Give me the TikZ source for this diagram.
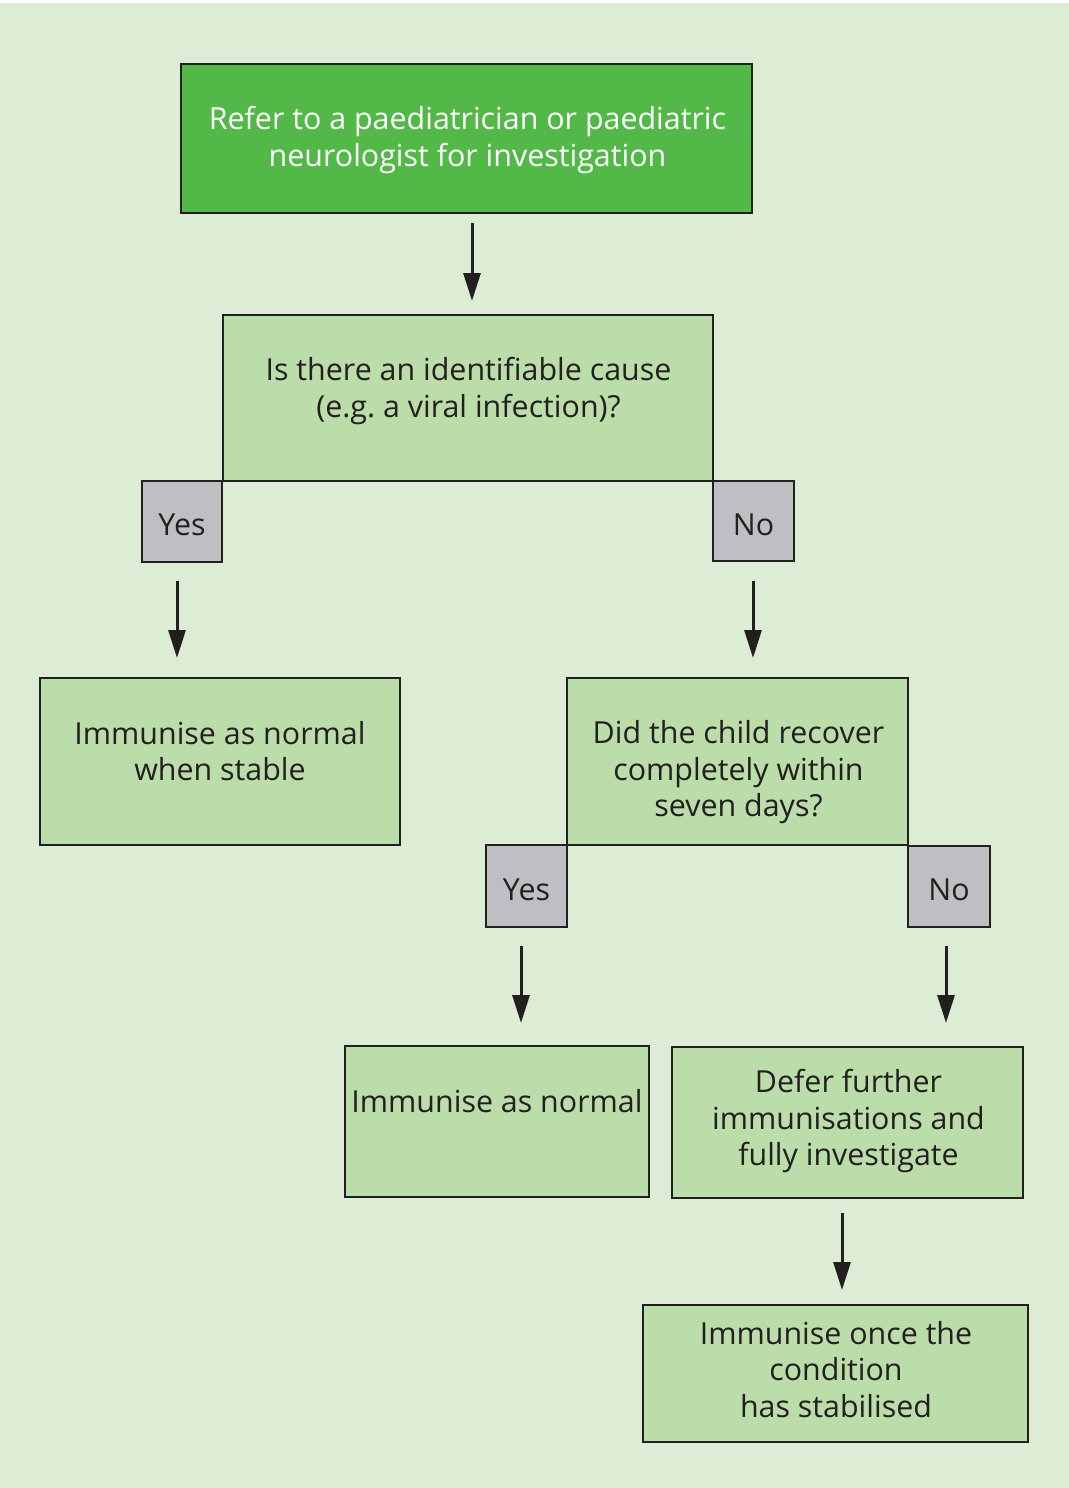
\documentclass[tikz,border=0pt]{standalone}
\usepackage{fontspec}
\setmainfont{Open Sans}
\usetikzlibrary{arrows.meta}

\definecolor{bggreen}{RGB}{221,237,213}
\definecolor{darkgreen}{RGB}{82,184,72}
\definecolor{boxgreen}{RGB}{187,221,170}
\definecolor{answergray}{RGB}{190,191,195}
\definecolor{inkblack}{RGB}{35,31,32}

\begin{document}
\frenchspacing
\begin{tikzpicture}[x=0.5pt,y=-0.5pt,
    box/.style={draw=inkblack, line width=1pt, fill=boxgreen, inner sep=0pt},
    answer/.style={draw=inkblack, line width=1pt, fill=answergray, inner sep=0pt,
        font=\fontsize{15.2}{18.25}\selectfont, text=inkblack, text height=14pt, text depth=-1pt},
    txt/.style={align=center, inner sep=0pt, yshift=-1.5pt, font=\fontsize{15.2}{18.25}\selectfont, text=inkblack},
    arrow/.style={draw=inkblack, line width=1.5pt, -{Triangle[length=14pt,width=8.5pt]}}]

% Background
\useasboundingbox (0,0) rectangle (1069,1488);
\fill [white] (0,0) rectangle (1069,1488);
\fill [bggreen] (0,3) rectangle (1069,1488);

% Boxes
\node [box, fill=darkgreen, minimum width=285.5pt, minimum height=74.5pt] (refer) at (466.5,138.5) {};
\node [txt, text=white] (refer-t) at (467.5,137) {Refer to a paediatrician or paediatric\\neurologist for investigation};

\node [box, minimum width=245pt, minimum height=83pt] (cause) at (468,398) {};
\node [txt] (cause-t) at (468.5,388) {Is there an identifiable cause\\(e.g. a viral infection)?};

\node [answer, minimum width=40pt, minimum height=40.5pt] (yes1) at (182,521.5) {Yes};
\node [answer, minimum width=40.5pt, minimum height=40pt] (no1) at (753.5,521) {No};

\node [box, minimum width=180pt, minimum height=83.5pt] (stable) at (220,761.5) {};
\node [txt] (stable-t) at (220,748) {Immunise as normal\\when stable};

\node [box, minimum width=170.5pt, minimum height=83.5pt] (recover) at (737.5,761.5) {};
\node [txt] (recover-t) at (738.5,769.5) {Did the child recover\\completely within\\seven days?};

\node [answer, minimum width=40.5pt, minimum height=41pt] (yes2) at (526.5,886) {Yes};
\node [answer, minimum width=41pt, minimum height=40.5pt] (no2) at (949,886.5) {No};

\node [box, minimum width=152pt, minimum height=75.5pt] (normal) at (497,1121.5) {};
\node [txt] (normal-t) at (497,1098) {Immunise as normal};

\node [box, minimum width=175.5pt, minimum height=75.5pt] (defer) at (847.5,1122.5) {};
\node [txt] (defer-t) at (848.5,1118.5) {Defer further\\immunisations and\\fully investigate};

\node [box, minimum width=192.5pt, minimum height=68.5pt] (once) at (835.5,1373.5) {};
\node [txt] (once-t) at (836,1366.5) {Immunise once the\\condition\\has stabilised};

% Arrows
\draw [arrow] (refer.south) ++(5.5,9) -- ++(0,78);
\draw [arrow] (yes1.south) ++(-5,18) -- ++(0,77);
\draw [arrow] (no1.south) ++(-0.5,19) -- ++(0,77);
\draw [arrow] (yes2.south) ++(-5.5,18) -- ++(0,77);
\draw [arrow] (no2.south) ++(-3,18) -- ++(0,77);
\draw [arrow] (defer.south) ++(-5.5,14) -- ++(0,77);
\end{tikzpicture}
\end{document}
